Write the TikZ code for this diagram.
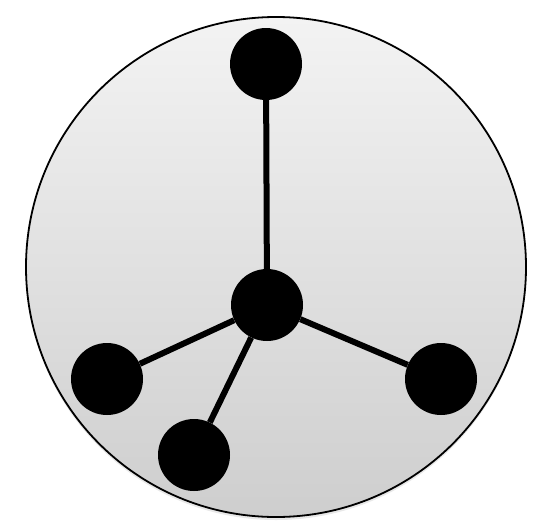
\documentclass[tikz,border=0pt]{standalone}
\usepackage{xcolor}
\usepackage{tikz}
\usetikzlibrary{shadows}
\definecolor{disctop}{RGB}{243,243,243}
\definecolor{discbot}{RGB}{206,206,206}

\begin{document}
\begin{tikzpicture}[
  x=1pt, y=-1pt,
  disc/.style={draw=black, line width=1.8pt, top color=disctop, bottom color=discbot,
               drop shadow={shadow xshift=0pt, shadow yshift=-3pt, opacity=0.18}},
  atom/.style={circle, fill=black, inner sep=0pt, minimum size=72pt},
  bond/.style={line width=6pt, black}
]
  \useasboundingbox (0,0) rectangle (546,525);

  % outer disc
  \path[disc] (276,267) circle[radius=250];

  % atoms
  \node[atom] (hub)   at (267,305) {};
  \node[atom] (top)   at (266,64)  {};
  \node[atom] (left)  at (107,379) {};
  \node[atom] (right) at (441,379) {};
  \node[atom] (low)   at (194,455) {};

  \draw[bond] (hub) -- (top);
  \draw[bond] (hub) -- (left);
  \draw[bond] (hub) -- (right);
  \draw[bond] (hub) -- (low);
\end{tikzpicture}
\end{document}
